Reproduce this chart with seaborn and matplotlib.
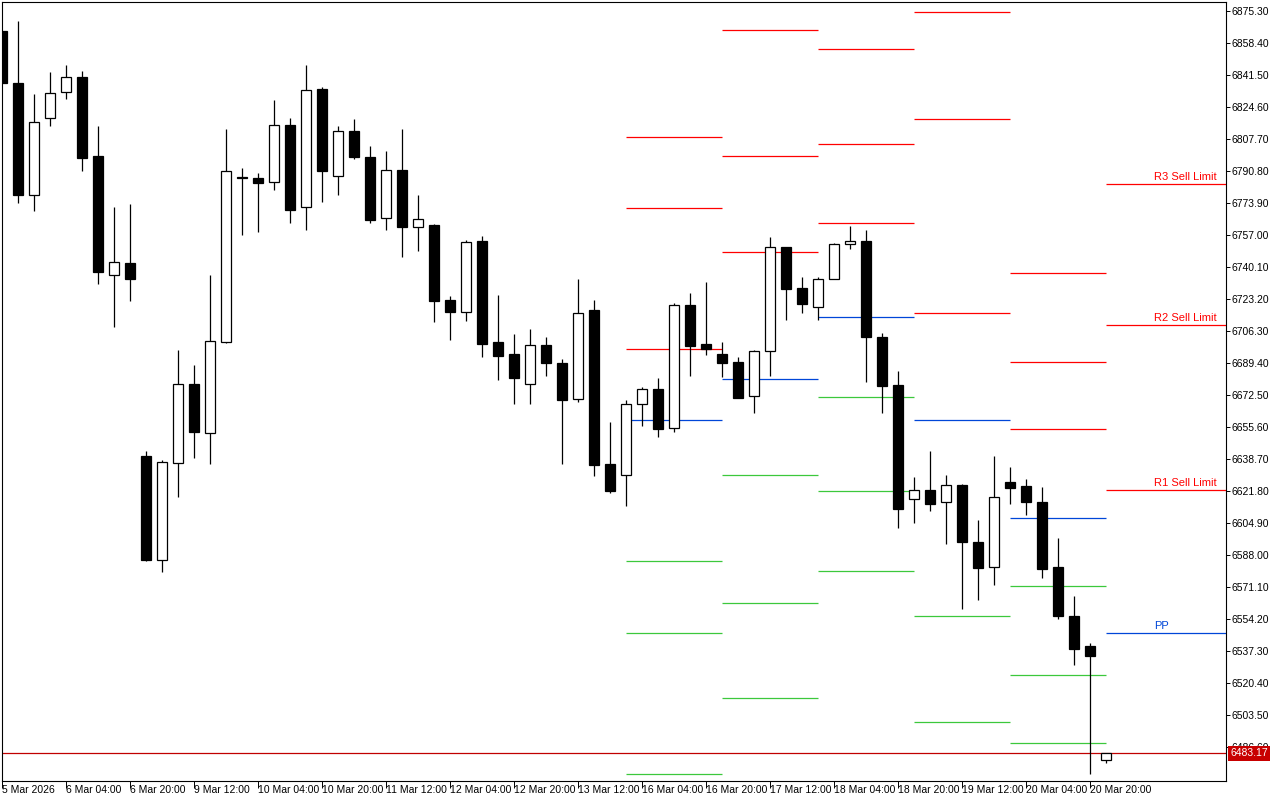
import numpy as np
import pandas as pd
import seaborn as sns
import matplotlib.pyplot as plt

sns.set_theme(style='white')
plt.rcParams['font.family'] = ['Liberation Sans Narrow', 'Liberation Sans', 'DejaVu Sans']

# H4 candles, 5 Mar 12:00 -> 23 Mar 00:00
opens = [6864.7, 6837.2, 6778.3, 6818.6, 6832.3, 6840.5, 6798.7, 6736.1, 6742.2, 6640.3,
         6585.6, 6636.8, 6678.3, 6652.3, 6700.7, 6787.5, 6787.1, 6784.8, 6814.9, 6771.6,
         6833.9, 6788.0, 6811.8, 6798.0, 6765.8, 6791.3, 6761.1, 6762.3, 6722.5, 6716.5,
         6753.8, 6700.5, 6694.2, 6678.2, 6698.8, 6689.2, 6670.2, 6717.4, 6636.1, 6630.1,
         6667.6, 6675.5, 6654.9, 6719.9, 6699.4, 6694.2, 6689.9, 6671.8, 6695.6, 6750.7,
         6728.8, 6718.8, 6733.6, 6752.1, 6753.8, 6703.1, 6677.8, 6617.4, 6622.2, 6615.8,
         6625.0, 6594.7, 6581.5, 6626.4, 6624.4, 6616.0, 6581.7, 6555.8, 6539.9, 6479.6]
highs = [6864.7, 6870.1, 6831.5, 6843.0, 6846.8, 6843.6, 6814.6, 6771.8, 6773.3, 6643.0,
         6638.2, 6696.3, 6688.3, 6735.9, 6813.0, 6792.4, 6789.7, 6828.3, 6818.6, 6846.8,
         6835.0, 6814.6, 6818.1, 6803.8, 6801.4, 6813.0, 6778.1, 6762.8, 6724.8, 6754.4,
         6756.5, 6725.3, 6704.7, 6707.4, 6703.1, 6691.5, 6733.8, 6722.7, 6658.2, 6669.9,
         6676.7, 6681.3, 6720.9, 6726.4, 6732.2, 6700.3, 6692.6, 6696.3, 6756.1, 6750.7,
         6734.8, 6734.8, 6752.6, 6761.8, 6759.6, 6705.2, 6685.2, 6629.2, 6642.9, 6630.3,
         6625.7, 6606.5, 6640.3, 6634.5, 6628.1, 6623.9, 6596.8, 6566.3, 6541.5, 6483.3]
lows = [6837.4, 6774.1, 6769.8, 6814.6, 6828.8, 6791.0, 6731.3, 6708.6, 6722.2, 6584.6,
        6579.2, 6618.8, 6639.1, 6636.2, 6700.2, 6757.2, 6758.6, 6780.9, 6763.5, 6759.8,
        6774.6, 6778.3, 6797.3, 6763.5, 6759.8, 6745.5, 6748.7, 6711.2, 6701.7, 6711.7,
        6692.7, 6680.6, 6667.9, 6667.9, 6682.7, 6636.2, 6669.0, 6629.9, 6620.9, 6614.0,
        6656.3, 6650.2, 6653.1, 6682.7, 6693.8, 6682.2, 6670.8, 6663.2, 6682.7, 6712.3,
        6716.0, 6712.3, 6733.6, 6749.8, 6679.5, 6663.2, 6602.4, 6605.1, 6611.4, 6594.0,
        6559.6, 6564.4, 6572.3, 6615.1, 6609.1, 6576.0, 6554.4, 6530.1, 6472.5, 6478.3]
closes = [6837.4, 6778.3, 6816.5, 6831.9, 6840.3, 6797.9, 6737.6, 6742.6, 6733.8, 6585.6,
          6637.2, 6678.3, 6653.1, 6700.9, 6790.8, 6787.2, 6784.6, 6814.9, 6770.4, 6833.4,
          6791.0, 6811.8, 6798.4, 6765.1, 6791.2, 6761.4, 6765.3, 6722.3, 6716.5, 6753.1,
          6699.6, 6693.3, 6681.6, 6698.8, 6689.6, 6670.0, 6715.6, 6635.7, 6622.0, 6667.6,
          6675.5, 6654.4, 6719.9, 6698.5, 6696.8, 6689.6, 6671.1, 6695.6, 6750.5, 6728.6,
          6720.7, 6733.6, 6752.1, 6753.7, 6703.3, 6677.4, 6612.5, 6622.2, 6615.1, 6624.8,
          6595.0, 6581.3, 6618.5, 6623.5, 6616.2, 6580.8, 6555.9, 6538.5, 6534.8, 6483.17]

xtick_pos = [0, 4, 8, 12, 16, 20, 24, 28, 32, 36, 40, 44, 48, 52, 56, 60, 64, 68]
xtick_labels = ['5 Mar 2026', '6 Mar 04:00', '6 Mar 20:00', '9 Mar 12:00', '10 Mar 04:00',
                '10 Mar 20:00', '11 Mar 12:00', '12 Mar 04:00', '12 Mar 20:00', '13 Mar 12:00',
                '16 Mar 04:00', '16 Mar 20:00', '17 Mar 12:00', '18 Mar 04:00', '18 Mar 20:00',
                '19 Mar 12:00', '20 Mar 04:00', '20 Mar 20:00']
ytick_vals = [6875.30, 6858.40, 6841.50, 6824.60, 6807.70, 6790.80, 6773.90, 6757.00,
              6740.10, 6723.20, 6706.30, 6689.40, 6672.50, 6655.60, 6638.70, 6621.80,
              6604.90, 6588.00, 6571.10, 6554.20, 6537.30, 6520.40, 6503.50, 6486.60]

# daily pivot levels (16 Mar .. 23 Mar), NaN = off chart
day_start = [39, 45, 51, 57, 63, 69]
r3 = [6808.8, 6865.4, 6855.0, 6874.7, 6736.8, 6783.8]
r2 = [6771.2, 6798.9, 6805.3, 6818.1, 6689.8, 6709.5]
r1 = [6696.7, 6748.1, 6763.2, 6715.6, 6654.4, 6622.2]
pp = [6659.2, 6681.1, 6713.5, 6659.2, 6607.5, 6547.0]
s1 = [6585.0, 6630.2, 6671.2, 6556.0, 6571.5, np.nan]
s2 = [6547.0, 6562.9, 6621.7, 6499.6, 6524.5, np.nan]
s3 = [6472.4, 6512.4, 6579.4, np.nan, 6488.6, np.nan]
last_labels = {'R3 Sell Limit': 6783.8, 'R2 Sell Limit': 6709.5, 'R1 Sell Limit': 6622.2, 'PP': 6547.0}
last_price = 6483.17

RED = '#ff0000'
BLUE = '#0046d8'
GREEN = '#3cc83c'

df = pd.DataFrame({'open': opens, 'high': highs, 'low': lows, 'close': closes})
df['idx'] = np.arange(len(df))
df['up'] = df['close'] >= df['open']
df['body_lo'] = df[['open', 'close']].min(axis=1)
df['body_h'] = (df['close'] - df['open']).abs()

fig = plt.figure(figsize=(12.8, 8), dpi=100)
ax = fig.add_axes([2 / 1280, 19.5 / 800, 1224 / 1280, 778.5 / 800])
ax.set_facecolor('white')

x_max = -0.02 + 1224 / 16
ax.set_xlim(-0.02, x_max)
ax.set_ylim(6468.9, 6880.05)

# pivot segments
ends = day_start[1:] + [x_max]
for levels, col in [(r3, RED), (r2, RED), (r1, RED), (pp, BLUE), (s1, GREEN), (s2, GREEN), (s3, GREEN)]:
    for x0, x1, v in zip(day_start, ends, levels):
        if not np.isnan(v):
            ax.hlines(v, x0, x1, color=col, linewidth=0.9, zorder=1)

for name, v in last_labels.items():
    ax.annotate(name, xy=(72.0, v), xytext=(0, 1.5), textcoords='offset points',
                ha='left', va='bottom', fontsize=8, color=BLUE if name == 'PP' else RED)

# current price line
ax.axhline(last_price, color='#c00000', linewidth=0.9, zorder=1)

# candles
ax.vlines(df['idx'], df['low'], df['high'], color='black', linewidth=0.9, zorder=2)
ax.bar(df['idx'], df['body_h'], bottom=df['body_lo'], width=0.62,
       color=np.where(df['up'], 'white', 'black'), edgecolor='black', linewidth=0.9, zorder=3)

ax.set_xticks(xtick_pos)
ax.set_xticklabels(xtick_labels)
for lbl in ax.get_xticklabels():
    lbl.set_ha('left')
ax.set_yticks(ytick_vals)
ax.set_yticklabels([f'{v:.2f}' for v in ytick_vals])
ax.yaxis.tick_right()
ax.tick_params(axis='x', direction='out', length=5, width=0.7, pad=-2.0, labelsize=7.5,
               colors='black', bottom=True)
ax.tick_params(axis='y', direction='out', length=3, width=0.7, pad=1, labelsize=7.5,
               colors='black', right=True, left=False)
for sp in ax.spines.values():
    sp.set_visible(True)
    sp.set_color('black')
    sp.set_linewidth(0.8)

ax.annotate(f'{last_price:.2f}', xy=(1.0, last_price), xycoords=('axes fraction', 'data'),
            xytext=(3, 0), textcoords='offset points', ha='left', va='center',
            color='white', fontsize=7.5, annotation_clip=False, zorder=10,
            bbox=dict(boxstyle='square,pad=0.2', fc='#c80000', ec='none'))

fig.savefig('out.png', dpi=100, facecolor='white')
